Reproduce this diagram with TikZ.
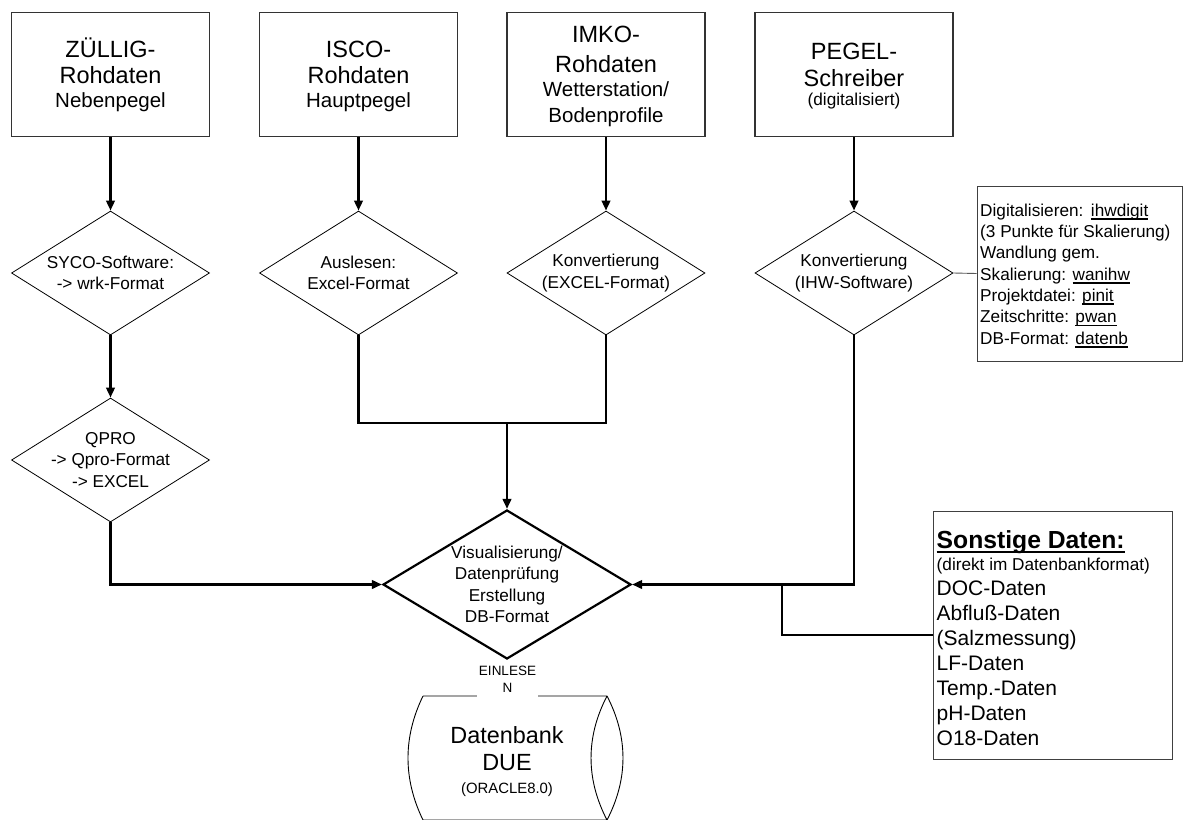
\documentclass[tikz,border=0pt]{standalone}
\usepackage{fontspec}
\setmainfont{Liberation Sans}
\usetikzlibrary{shapes.geometric,arrows.meta}
\newcommand{\ulthin}[1]{\setbox0=\hbox{#1}\rlap{\rule[-3.4pt]{\wd0}{1.5pt}}\box0}
\newcommand{\ulthick}[1]{\setbox0=\hbox{#1}\rlap{\rule[-5.3pt]{\wd0}{2.4pt}}\box0}
\begin{document}
\begin{tikzpicture}[x=1pt,y=-1pt,
  srcbox/.style={draw=black!80,line width=1.3pt,minimum width=198pt,minimum height=124.5pt,inner sep=0pt,align=center,font=\fontsize{23.5}{25}\selectfont},
  diam/.style={diamond,draw,line width=0.8pt,minimum width=198pt,minimum height=124pt,inner sep=0pt},
  bigdiam/.style={diamond,draw,line width=2.2pt,minimum width=248pt,minimum height=149pt,inner sep=0pt},
  dtext/.style={align=center,inner sep=0pt,font=\fontsize{17.2}{21.4}\selectfont},
  notebox/.style={draw=black!75,line width=1pt,inner sep=0pt},
  conn/.style={line width=2.4pt},
  arr/.style={conn,-{Triangle[length=10pt,width=8.5pt]}},
  sideline/.style={draw=black!65,line width=0.9pt},
  dbline/.style={line width=0.9pt}]
\useasboundingbox (0,0) rectangle (1183,819);

% source boxes
\node[srcbox] (b1) at (110.5,74.5) {\vphantom{Ü}ZÜLLIG-\\[1.7pt]Rohdaten\\[-1.7pt]{\fontsize{20.5}{24}\selectfont Nebenpegel}};
\node[srcbox] (b2) at (358.5,74.5) {\vphantom{Ü}ISCO-\\[1.7pt]Rohdaten\\[-1.7pt]{\fontsize{20.5}{24}\selectfont Hauptpegel}};
\node[srcbox] (b3) at (606,74.5) {\vphantom{Ü}IMKO-\\[5pt]Rohdaten\\[-1pt]{\fontsize{20.5}{24}\selectfont Wetterstation/}\\[1pt]{\fontsize{20.5}{24}\selectfont Bodenprofile}};
\node[srcbox] (b4) at (854,74.5) {\vphantom{Ü}PEGEL-\\[1.7pt]Schreiber\\[-5.6pt]{\fontsize{17.2}{20}\selectfont (digitalisiert)}};

% decision diamonds
\node[diam] (d1) at (110.5,273) {};
\node[dtext] (t1) at (d1) {SYCO-Software:\\-> wrk-Format};
\node[diam] (d2) at (358.5,273) {};
\node[dtext] (t2) at (d2) {Auslesen:\\Excel-Format};
\node[diam] (d3) at (606,273) {};
\node[dtext] (t3) at (d3) {Konvertierung\\(EXCEL-Format)};
\node[diam] (d4) at (854,273) {};
\node[dtext] (t4) at (d4) {Konvertierung\\(IHW-Software)};
\node[diam] (q) at (110.5,460) {};
\node[dtext] (tq) at (q) {QPRO\\-> Qpro-Format\\-> EXCEL};
\node[bigdiam] (big) at (507,584.5) {};
\node[dtext] (tbig) at (big) {Visualisierung/\\Datenprüfung\\Erstellung\\DB-Format};

% side note box
\node[notebox,minimum width=205pt,minimum height=175pt] (side) at (1079.5,273.5) {};
\node[anchor=north west,inner sep=0pt,align=left,font=\fontsize{17.2}{21.33}\selectfont] (sidet) at (980,203.5)
 {Digitalisieren:\hspace{7.5pt}\ulthin{ihwdigit}\\(3 Punkte für Skalierung)\\Wandlung gem.\\Skalierung: \ulthin{wanihw}\\Projektdatei: \ulthin{pinit}\\Zeitschritte: \ulthin{pwan}\\DB-Format: \ulthin{datenb}};

% Sonstige Daten box
\node[notebox,minimum width=239pt,minimum height=248pt] (sonst) at (1052.5,635) {};
\node[anchor=north west,inner sep=0pt,align=left,font=\fontsize{21}{25}\selectfont] (sonstt) at (936.5,530)
 {{\fontsize{24.7}{25}\bfseries\ulthick{Sonstige Daten:}}\\[-3pt]{\fontsize{17.2}{20}\selectfont (direkt im Datenbankformat)}\\DOC-Daten\\Abfluß-Daten\\(Salzmessung)\\LF-Daten\\Temp.-Daten\\pH-Daten\\O18-Daten};

% database (direct access storage)
\draw[dbline] (423,696) -- (607,696)
  (423,696) .. controls (403,737) and (403,779) .. (423,820)
  (607,696) .. controls (628.3,737) and (628.3,779) .. (607,820)
  (607,696) .. controls (585.7,737) and (585.7,779) .. (607,820)
  (423,820) -- (607,820);
\node[align=center,inner sep=0pt,font=\fontsize{23.4}{27.5}\selectfont] (db) at (507,761.5)
 {Datenbank\\DUE\\[-5pt]{\fontsize{14.9}{18}\selectfont (ORACLE8.0)}};
\node[fill=white,inner sep=0pt,minimum width=61pt,minimum height=36pt,align=center,font=\fontsize{13.5}{17}\selectfont] (einl) at (507.5,679.5) {EINLESE\\N};

% connectors
\draw[arr] (b1.south) -- (d1.north);
\draw[arr] (b2.south) -- (d2.north);
\draw[arr] (b3.south) -- (d3.north);
\draw[arr] (b4.south) -- (d4.north);
\draw[arr] (d1.south) -- (q.north);
\draw[arr] (q.south) |- (big.west);
\coordinate (j) at (507,422.7);
\draw[conn] (d2.south) |- (j) -| (d3.south);
\draw[arr] (j) -- (big.north);
\draw[arr] (d4.south) |- (big.east);
\coordinate (k) at (782,584.5);
\draw[conn] (sonst.west) -| (k);
\draw[sideline] (d4.east) -- (side.west);
\end{tikzpicture}
\end{document}
